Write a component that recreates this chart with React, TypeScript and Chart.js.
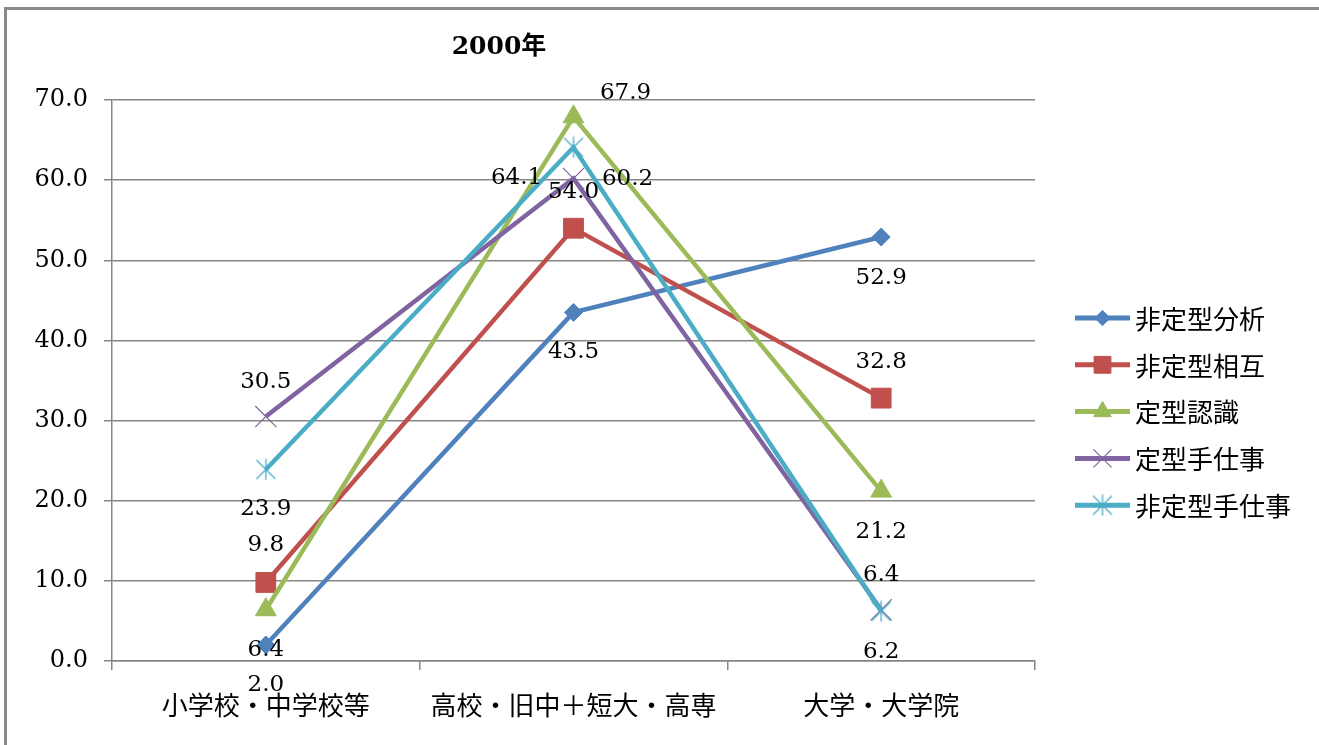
import { useEffect, useRef } from 'react';
import { Chart, registerables } from 'chart.js';
import { drawPoint } from 'chart.js/helpers';

Chart.register(...registerables);

// ---- data ----
const chartTitle = '2000年';
const categories = ['小学校・中学校等', '高校・旧中＋短大・高専', '大学・大学院'];
const seriesNames = ['非定型分析', '非定型相互', '定型認識', '定型手仕事', '非定型手仕事'];
const hiteikeiBunseki = [2.0, 43.5, 52.9];
const hiteikeiSogo = [9.8, 54.0, 32.8];
const teikeiNinshiki = [6.4, 67.9, 21.2];
const teikeiTeshigoto = [30.5, 60.2, 6.4];
const hiteikeiTeshigoto = [23.9, 64.1, 6.2];
const yMin = 0;
const yMax = 70;
const yStep = 10;

// ---- styling ----
const colors = ['#4F81BD', '#C0504D', '#9BBB59', '#8064A2', '#4BACC6'];
const gridColor = '#868686';
const numFont = "'DejaVu Serif', 'Liberation Serif', serif";
const jpFont = "'Noto Sans CJK JP', 'Noto Sans', sans-serif";

// value label offsets (dx, dy) from each point, per series
const labelOffsets: number[][][] = [
  [[0, 40], [0, 40], [0, 41]],
  [[0, -37], [0, -36], [0, -36]],
  [[0, 40], [52, -24], [0, 41]],
  [[0, -35], [54, 0], [0, -35]],
  [[0, 40], [-57, 31], [0, 41]],
];

function makeAsterisk(color: string, size: number) {
  const c = document.createElement('canvas');
  c.width = size;
  c.height = size;
  const g = c.getContext('2d')!;
  g.strokeStyle = color;
  g.lineWidth = 1.3;
  const m = 1.5;
  g.beginPath();
  g.moveTo(m, m);
  g.lineTo(size - m, size - m);
  g.moveTo(size - m, m);
  g.lineTo(m, size - m);
  g.moveTo(size / 2, 0.5);
  g.lineTo(size / 2, size - 0.5);
  g.stroke();
  return c;
}

const valueLabelPlugin = {
  id: 'valueLabels',
  afterDatasetsDraw(chart: any) {
    const ctx = chart.ctx;
    ctx.save();
    ctx.font = `23px ${numFont}`;
    ctx.fillStyle = '#000';
    ctx.textAlign = 'center';
    ctx.textBaseline = 'middle';
    chart.data.datasets.forEach((ds: any, i: number) => {
      const meta = chart.getDatasetMeta(i);
      meta.data.forEach((pt: any, j: number) => {
        const [dx, dy] = labelOffsets[i][j];
        ctx.fillText(Number(ds.data[j]).toFixed(1), pt.x + dx, pt.y + dy);
      });
    });
    ctx.restore();
  },
};

const titlePlugin = {
  id: 'sideTitle',
  afterDraw(chart: any) {
    const ctx = chart.ctx;
    ctx.save();
    ctx.font = `bold 25px ${numFont}, 'Noto Sans CJK JP'`;
    ctx.fillStyle = '#000';
    ctx.textAlign = 'center';
    ctx.textBaseline = 'middle';
    ctx.fillText(chartTitle, chart.chartArea.left + 387, 47);
    ctx.restore();
  },
};

const legendPlugin = {
  id: 'sideLegend',
  afterDraw(chart: any) {
    const ctx = chart.ctx;
    const x0 = chart.chartArea.right + 40;
    const x1 = x0 + 55;
    ctx.save();
    chart.data.datasets.forEach((ds: any, i: number) => {
      const y = 318 + i * 46.8;
      ctx.strokeStyle = ds.borderColor;
      ctx.fillStyle = ds.borderColor;
      ctx.lineWidth = 5;
      ctx.beginPath();
      ctx.moveTo(x0, y);
      ctx.lineTo(x1, y);
      ctx.stroke();
      ctx.lineWidth = ds.pointBorderWidth;
      drawPoint(ctx, {
        pointStyle: ds.pointStyle,
        radius: ds.pointRadius * 0.85,
        borderWidth: ds.pointBorderWidth,
        rotation: 0,
      } as any, (x0 + x1) / 2, y);
      ctx.font = `26px ${jpFont}`;
      ctx.fillStyle = '#000';
      ctx.textAlign = 'left';
      ctx.textBaseline = 'middle';
      ctx.fillText(ds.label, x1 + 5, y + 1);
    });
    ctx.restore();
  },
};

export default function App() {
  const canvasRef = useRef<HTMLCanvasElement | null>(null);

  useEffect(() => {
    if (!canvasRef.current) return;
    const values = [hiteikeiBunseki, hiteikeiSogo, teikeiNinshiki, teikeiTeshigoto, hiteikeiTeshigoto];
    const styles: any[] = ['rectRot', 'rect', 'triangle', 'crossRot', makeAsterisk(colors[4], 22)];
    const radii = [9, 14, 12, 15, 11];
    const pointBorders = [1, 1, 1, 1.2, 1.2];

    const chart = new Chart(canvasRef.current, {
      type: 'line',
      data: {
        labels: categories,
        datasets: values.map((v, i) => ({
          label: seriesNames[i],
          data: v,
          borderColor: colors[i],
          backgroundColor: colors[i],
          borderWidth: 4.5,
          tension: 0,
          pointStyle: styles[i],
          pointRadius: radii[i],
          pointBorderWidth: pointBorders[i],
          pointBorderColor: colors[i],
          pointBackgroundColor: colors[i],
          order: values.length - i,
        })),
      },
      options: {
        responsive: false,
        animation: false,
        layout: { padding: { left: 0, top: 100, right: 284, bottom: 0 } },
        plugins: {
          legend: { display: false },
          title: { display: false },
          tooltip: { enabled: false },
        },
        scales: {
          x: {
            type: 'category',
            offset: true,
            grid: {
              offset: true,
              drawOnChartArea: false,
              drawTicks: true,
              tickLength: 9,
              color: gridColor,
              lineWidth: 1.5,
            },
            border: { color: gridColor, width: 1.5 },
            ticks: {
              font: { family: jpFont, size: 26 },
              color: '#000',
              padding: 20,
              maxRotation: 0,
              autoSkip: false,
            },
            afterFit: (s: any) => {
              s.height = 84;
            },
          },
          y: {
            min: yMin,
            max: yMax,
            ticks: {
              stepSize: yStep,
              font: { family: numFont, size: 24 },
              color: '#000',
              padding: 16,
              callback: (v: any) => Number(v).toFixed(1),
            },
            grid: { color: gridColor, lineWidth: 1.5, tickLength: 8 },
            border: { color: gridColor, width: 1.5 },
            afterFit: (s: any) => {
              s.width = 112;
            },
          },
        },
      },
      plugins: [valueLabelPlugin, titlePlugin, legendPlugin],
    });
    return () => chart.destroy();
  }, []);

  return (
    <div
      style={{
        position: 'absolute',
        left: 0,
        top: 0,
        width: 1319,
        height: 745,
        overflow: 'hidden',
        background: '#fff',
      }}
    >
      <div
        style={{
          position: 'absolute',
          left: 4,
          top: 7,
          width: 1400,
          height: 800,
          borderLeft: '3px solid #8a8a8a',
          borderTop: '3px solid #8a8a8a',
        }}
      />
      <canvas
        ref={canvasRef}
        width={1319}
        height={745}
        style={{ position: 'absolute', left: 0, top: 0 }}
      />
    </div>
  );
}
